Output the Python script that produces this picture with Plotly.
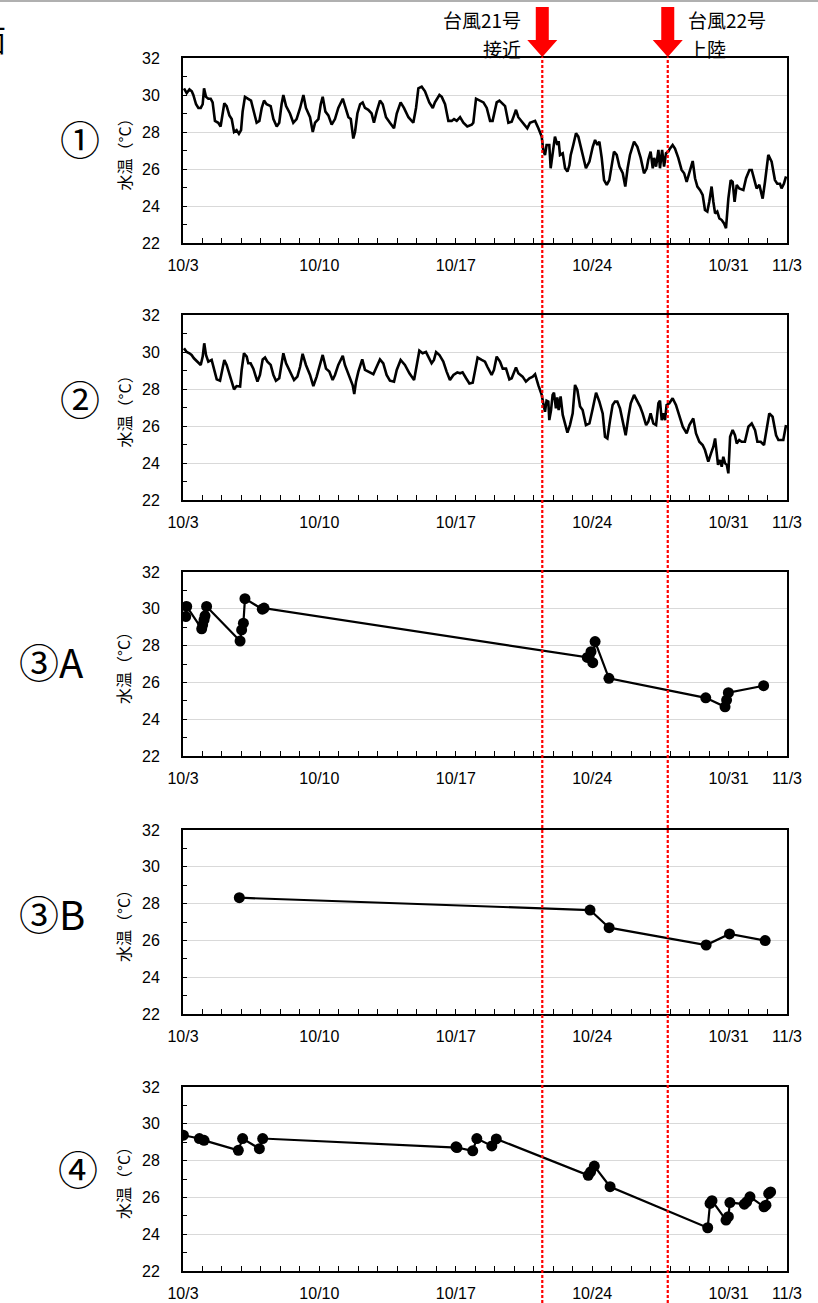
import plotly.graph_objects as go
import pandas as pd

W, H = 818, 1303
BASE = pd.Timestamp("2017-10-03")
END = pd.Timestamp("2017-11-03")

# ---------------- data (days after 10/3 00:00, water temperature in deg C) ----------------
p1_days = [0.05, 0.19, 0.33, 0.45, 0.53, 0.67, 0.79, 0.91, 1.01, 1.08,
           1.18, 1.30, 1.42, 1.52, 1.64, 1.81, 1.93, 2.12, 2.24, 2.38,
           2.50, 2.62, 2.75, 2.87, 2.98, 3.06, 3.18, 3.35, 3.49, 3.61,
           3.78, 3.92, 4.04, 4.16, 4.29, 4.50, 4.64, 4.81, 4.94, 5.06,
           5.15, 5.29, 5.49, 5.66, 5.83, 6.01, 6.18, 6.31, 6.52, 6.66,
           6.78, 6.95, 7.07, 7.17, 7.31, 7.46, 7.63, 7.80, 7.97, 8.20,
           8.32, 8.49, 8.61, 8.74, 8.83, 8.95, 9.09, 9.22, 9.34, 9.51,
           9.68, 9.80, 9.94, 10.11, 10.25, 10.42, 10.62, 10.83, 10.97, 11.17,
           11.34, 11.57, 11.82, 11.96, 12.08, 12.25, 12.42, 12.64, 12.82, 12.93,
           13.16, 13.28, 13.45, 13.62, 13.79, 13.91, 14.05, 14.22, 14.39, 14.59,
           14.82, 14.90, 15.04, 15.24, 15.42, 15.59, 15.76, 15.89,
           16.10, 16.24, 16.41, 16.53, 16.70, 16.87, 16.99, 17.09, 17.21, 17.38,
           17.55, 17.67, 17.81, 17.98, 18.07, 18.24, 18.41, 18.49, 18.58, 18.66,
           18.80, 18.87, 18.97, 19.09, 19.21, 19.28, 19.35, 19.49, 19.61, 19.73,
           19.83, 19.90, 20.03, 20.17, 20.29, 20.46, 20.68, 20.86, 21.03, 21.15,
           21.27, 21.37, 21.49, 21.61, 21.75, 21.88, 22.00, 22.12, 22.26, 22.40,
           22.57, 22.70, 22.82, 22.94, 23.15, 23.32, 23.49, 23.66, 23.80, 23.88,
           24.00, 24.11, 24.18, 24.28, 24.40, 24.48, 24.59, 24.69, 24.79, 24.91,
           24.99, 25.13, 25.25, 25.42, 25.59, 25.72, 25.85, 25.99, 26.16, 26.28,
           26.40, 26.54, 26.67, 26.79, 26.91, 27.01, 27.13, 27.22, 27.31, 27.42,
           27.53, 27.65, 27.77, 27.87, 27.99, 28.11, 28.21, 28.31, 28.42, 28.55,
           28.76, 28.90, 29.07, 29.19, 29.31, 29.44, 29.58, 29.75, 29.87, 30.04,
           30.21, 30.38, 30.50, 30.64, 30.72, 30.84, 30.95]
p1_temp = [30.36, 30.1, 30.3, 30.2, 30.0, 29.5, 29.3, 29.3, 29.5, 30.36,
           29.9, 29.8, 29.8, 29.6, 28.6, 28.5, 28.3, 29.55, 29.4, 28.9,
           28.7, 28.0, 28.1, 27.9, 28.1, 29.1, 29.9, 29.8, 29.7, 29.2,
           28.5, 28.6, 29.3, 29.7, 29.5, 29.4, 28.7, 28.3, 28.5, 29.5,
           30.0, 29.4, 29.0, 28.5, 28.7, 29.3, 30.0, 29.3, 28.8, 28.0,
           28.5, 28.7, 29.5, 29.9, 29.1, 28.9, 28.4, 28.7, 29.3, 29.8,
           29.4, 28.8, 28.7, 27.65, 28.0, 29.0, 29.5, 29.6, 29.3, 29.2,
           29.0, 28.5, 29.1, 29.7, 29.5, 28.8, 28.5, 28.2, 29.0, 29.6,
           29.3, 28.8, 28.5, 29.3, 30.36, 30.45, 30.2, 29.6, 29.3, 29.6,
           30.0, 29.9, 29.5, 28.6, 28.6, 28.7, 28.6, 28.8, 28.5, 28.3,
           28.4, 28.5, 29.8, 29.7, 29.6, 29.3, 28.6, 28.6,
           29.6, 29.7, 29.5, 29.4, 28.5, 28.56, 28.9, 29.2, 28.8, 28.6,
           28.4, 28.2, 28.5, 28.56, 28.6, 28.2, 27.75, 27.0, 26.76, 27.3,
           27.3, 26.04, 26.76, 27.75, 27.3, 27.5, 26.76, 26.85, 26.04, 25.86,
           26.2, 26.76, 27.3, 27.93, 27.75, 26.94, 26.04, 26.4, 27.2, 27.57,
           27.3, 27.48, 26.6, 25.4, 25.14, 25.4, 26.2, 26.94, 26.76, 26.13,
           25.77, 25.05, 26.04, 26.76, 27.48, 27.2, 26.6, 25.77, 26.04, 26.5,
           26.94, 26.04, 26.6, 26.13, 27.03, 26.04, 27.03, 26.13, 26.85, 26.94,
           27.1, 27.3, 27.1, 26.6, 25.95, 25.77, 25.3, 25.77, 26.43, 25.5,
           25.05, 24.86, 24.6, 23.78, 23.7, 24.23, 25.05, 24.23, 23.6, 23.7,
           23.33, 23.24, 23.06, 22.8, 24.4, 25.4, 25.3, 24.23, 25.14, 24.95,
           24.86, 25.5, 25.95, 25.95, 25.5, 24.95, 25.14, 24.4, 25.3, 26.76,
           26.4, 25.4, 25.2, 25.2, 24.95, 25.2, 25.6]

p2_days = [0.05, 0.19, 0.33, 0.44, 0.56, 0.74, 0.91, 1.01, 1.09, 1.18,
           1.30, 1.47, 1.59, 1.73, 1.90, 2.02, 2.12, 2.24, 2.38, 2.55,
           2.62, 2.75, 2.93, 3.01, 3.13, 3.27, 3.35, 3.47, 3.61, 3.82,
           3.95, 4.09, 4.21, 4.33, 4.50, 4.64, 4.77, 4.94, 5.06, 5.15,
           5.29, 5.49, 5.70, 5.87, 6.01, 6.14, 6.31, 6.52, 6.69, 6.86,
           7.03, 7.17, 7.34, 7.51, 7.68, 7.80, 7.97, 8.20, 8.31, 8.49,
           8.61, 8.71, 8.79, 8.88, 9.00, 9.20, 9.34, 9.51, 9.77, 9.94,
           10.11, 10.28, 10.45, 10.62, 10.83, 10.97, 11.17, 11.39, 11.62, 11.86,
           11.99, 12.13, 12.30, 12.47, 12.59, 12.76, 12.88, 12.99, 13.16, 13.36,
           13.53, 13.70, 13.88, 14.08, 14.22, 14.35, 14.53, 14.70, 14.87, 14.99,
           15.12, 15.33, 15.50, 15.62, 15.84, 15.96, 16.10,
           16.27, 16.41, 16.58, 16.75, 16.87, 16.99, 17.09, 17.21, 17.43, 17.60,
           17.78, 17.95, 18.07, 18.24, 18.41, 18.49, 18.58, 18.66, 18.75, 18.80,
           18.89, 18.97, 19.04, 19.14, 19.21, 19.28, 19.38, 19.49, 19.61, 19.73,
           19.86, 20.00, 20.12, 20.24, 20.38, 20.51, 20.68, 20.86, 21.03, 21.20,
           21.37, 21.54, 21.66, 21.78, 21.92, 22.05, 22.17, 22.29, 22.43, 22.57,
           22.72, 22.86, 22.98, 23.15, 23.29, 23.46, 23.59, 23.77, 23.88, 24.00,
           24.14, 24.28, 24.40, 24.48, 24.57, 24.65, 24.74, 24.82, 24.96, 25.13,
           25.30, 25.47, 25.65, 25.85, 25.99, 26.19, 26.33, 26.50, 26.67, 26.79,
           26.96, 27.10, 27.22, 27.31, 27.39, 27.46, 27.56, 27.65, 27.73, 27.82,
           27.91, 27.99, 28.08, 28.21, 28.33, 28.42, 28.55, 28.67, 28.84, 29.02,
           29.19, 29.36, 29.48, 29.65, 29.82, 29.92, 30.09, 30.26, 30.44, 30.56,
           30.81, 30.95]
p2_temp = [30.2, 30.0, 29.93, 29.84, 29.66, 29.48, 29.3, 29.75, 30.47, 29.84,
           29.48, 29.57, 29.03, 28.52, 28.45, 29.1, 29.57, 29.3, 28.76, 28.2,
           27.98, 28.16, 28.13, 29.03, 29.93, 29.75, 29.39, 29.39, 29.1, 28.4,
           28.76, 29.6, 29.7, 29.48, 29.3, 28.76, 28.45, 28.58, 29.39, 29.93,
           29.39, 28.94, 28.49, 28.67, 29.2, 29.9, 29.3, 28.76, 28.16, 28.67,
           29.39, 29.84, 29.1, 28.94, 28.49, 28.76, 29.3, 29.8, 29.3, 28.76,
           28.4, 28.2, 27.73, 28.4, 28.94, 29.6, 29.03, 28.94, 28.8, 29.2,
           29.6, 29.39, 28.76, 28.45, 28.4, 29.03, 29.57, 29.3, 28.85, 28.49,
           29.3, 30.07, 29.93, 30.0, 29.75, 29.39, 29.57, 30.0, 29.84, 29.48,
           28.94, 28.49, 28.76, 28.9, 28.85, 28.9, 28.58, 28.3, 28.34, 28.94,
           29.7, 29.57, 29.48, 29.2, 28.76, 29.03, 29.75,
           29.48, 29.1, 29.1, 28.52, 28.58, 28.94, 29.17, 28.85, 28.67, 28.4,
           28.58, 28.67, 28.8, 28.2, 27.68, 27.23, 26.77, 27.37, 27.32, 26.32,
           26.86, 27.68, 27.8, 26.95, 27.55, 26.86, 27.6, 26.6, 26.14, 25.64,
           26.05, 26.68, 28.22, 27.95, 27.05, 26.86, 26.05, 26.14, 26.95, 27.8,
           27.32, 26.68, 25.42, 25.33, 26.32, 27.14, 27.32, 27.32, 26.95, 26.32,
           25.5, 26.5, 27.23, 27.68, 27.4, 27.05, 26.68, 26.05, 26.23, 26.68,
           26.14, 26.05, 27.23, 27.37, 26.32, 26.68, 26.32, 27.14, 27.23, 27.5,
           27.14, 26.5, 25.96, 25.6, 26.05, 26.41, 25.6, 25.15, 24.97, 24.7,
           24.07, 24.52, 24.88, 25.33, 24.7, 23.9, 24.16, 23.8, 24.34, 23.98,
           23.9, 23.44, 25.42, 25.78, 25.5, 25.06, 25.24, 25.15, 25.15, 25.96,
           26.14, 25.78, 25.15, 25.15, 24.97, 25.6, 26.68, 26.5, 25.5, 25.24,
           25.24, 26.05]

p3a_days = [0.14, 0.19, 0.96, 1.01, 1.08, 1.13, 1.21, 2.93, 3.01, 3.10,
            3.18, 4.07, 4.16, 20.75, 20.94, 21.03, 21.15, 21.86, 26.83, 27.82,
            27.90, 27.99, 29.80]
p3a_temp = [29.58, 30.13, 28.91, 29.13, 29.40, 29.62, 30.13, 28.25, 28.85, 29.22,
            30.55, 29.98, 30.04, 27.36, 27.67, 27.07, 28.22, 26.22, 25.16, 24.67,
            25.04, 25.44, 25.82]

p3b_days = [2.89, 20.89, 21.87, 26.85, 28.05, 29.88]
p3b_temp = [28.32, 27.65, 26.69, 25.75, 26.35, 25.99]

p4_days = [0.02, 0.84, 1.08, 2.84, 3.06, 3.92, 4.09, 14.01, 14.06, 14.87,
           15.08, 15.85, 16.08, 20.80, 20.92, 21.11, 21.92, 26.93, 27.05, 27.15,
           27.87, 27.99, 28.07, 28.81, 28.93, 29.10, 29.82, 29.92, 30.06, 30.16]
p4_temp = [29.38, 29.20, 29.10, 28.56, 29.20, 28.65, 29.20, 28.75, 28.71, 28.53,
           29.20, 28.80, 29.18, 27.20, 27.39, 27.70, 26.58, 24.35, 25.67, 25.82,
           24.77, 24.95, 25.72, 25.63, 25.76, 26.03, 25.49, 25.58, 26.21, 26.30]

panel_labels = ["①", "②", "③A", "③B", "④"]
tick_days = [0, 7, 14, 21, 28, 31]
tick_labels = ["10/3", "10/10", "10/17", "10/24", "10/31", "11/3"]
typhoon_days = [18.44, 24.88]
typhoon_text = [("台風21号", "接近"), ("台風22号", "上陸")]
y_title = "水温（°C）"

# ---------------- layout geometry (pixels) ----------------
PLOT_L, PLOT_R = 183, 787
panel_px = [(58, 243), (315, 500), (572, 756), (830, 1014), (1087, 1271)]
label_px = [(80, 138, "center"), (80, 398, "center"), (17, 661, "left"),
            (17, 913, "left"), (78, 1168, "center")]


def t(days):
    return [BASE + pd.Timedelta(days=d) for d in days]


def ts(d):
    return (BASE + pd.Timedelta(days=d)).strftime("%Y-%m-%d %H:%M:%S")


def py(p):
    return 1 - p / H


fig = go.Figure()

series = [(p1_days, p1_temp, False), (p2_days, p2_temp, False),
          (p3a_days, p3a_temp, True), (p3b_days, p3b_temp, True),
          (p4_days, p4_temp, True)]

for i, (d, v, mk) in enumerate(series):
    sfx = "" if i == 0 else str(i + 1)
    fig.add_trace(go.Scatter(
        x=t(d), y=v, xaxis="x" + sfx, yaxis="y" + sfx,
        mode="lines+markers" if mk else "lines",
        line=dict(color="black", width=2.6 if not mk else 2.2),
        marker=dict(color="black", size=11),
        showlegend=False, hoverinfo="skip"))

layout = dict(width=W, height=H, margin=dict(l=0, r=0, t=0, b=0, autoexpand=False),
              paper_bgcolor="white", plot_bgcolor="white", showlegend=False)

annotations = []
shapes = []
for i, (top, bot) in enumerate(panel_px):
    sfx = "" if i == 0 else str(i + 1)
    layout["xaxis" + sfx] = dict(
        type="date", range=[BASE, END], domain=[PLOT_L / W, PLOT_R / W],
        anchor="y" + sfx, tickmode="array", tickvals=t(tick_days), ticktext=tick_labels,
        ticks="inside", ticklen=5, tickwidth=1, tickcolor="black",
        minor=dict(dtick=86400000, tick0=BASE, ticks="inside", ticklen=5,
                   tickwidth=1, tickcolor="black", showgrid=False),
        showline=True, linecolor="black", linewidth=2, mirror=True, automargin=False,
        showgrid=False, zeroline=False, ticklabelstandoff=7,
        tickfont=dict(family="Liberation Sans", size=16, color="black"))
    layout["yaxis" + sfx] = dict(
        range=[22, 32], domain=[py(bot), py(top)], anchor="x" + sfx,
        tick0=22, dtick=2, ticks="inside", ticklen=4, tickwidth=1, tickcolor="black",
        minor=dict(dtick=1, ticks="inside", ticklen=4, tickwidth=1,
                   tickcolor="black", showgrid=False),
        showgrid=True, gridcolor="#d9d9d9", gridwidth=1, automargin=False,
        showline=True, linecolor="black", linewidth=2, mirror=True,
        zeroline=False, ticklabelstandoff=18,
        tickfont=dict(family="Liberation Sans", size=16, color="black"))
    annotations.append(dict(
        text=y_title, textangle=-90, xref="paper", yref="paper",
        x=123 / W, y=py((top + bot) / 2), xanchor="center", yanchor="middle",
        showarrow=False, font=dict(family="Noto Sans CJK JP", size=16, color="black")))
    lx, ly, anc = label_px[i]
    annotations.append(dict(
        text=panel_labels[i], xref="paper", yref="paper", x=lx / W, y=py(ly),
        xanchor=anc, yanchor="middle", showarrow=False,
        font=dict(family="Noto Sans CJK JP", size=40, color="black")))

# typhoon markers
for k, d in enumerate(typhoon_days):
    shapes.append(dict(type="line", xref="x", yref="paper", x0=ts(d), x1=ts(d),
                       y0=0, y1=py(57), line=dict(color="#ff0000", width=2.2, dash="3px,2px"),
                       layer="above"))
    shapes.append(dict(type="path", xref="x", yref="paper", xsizemode="pixel",
                       ysizemode="pixel", xanchor=ts(d), yanchor=py(57),
                       path="M -6.5 17 L -6.5 50 L 6.5 50 L 6.5 17 L 15 17 L 0 0 L -15 17 Z",
                       fillcolor="#ff0000", line=dict(width=0), layer="above"))
    l1, l2 = typhoon_text[k]
    if k == 0:
        anc, shift, al = "right", -19, "right"
    else:
        anc, shift, al = "left", 18, "left"
    for txt, yy in ((l1, 19), (l2, 48)):
        annotations.append(dict(
            text=txt, xref="x", yref="paper", x=ts(d), xshift=shift, y=py(yy),
            xanchor=anc, yanchor="middle", align=al, showarrow=False,
            font=dict(family="Noto Sans CJK JP", size=19, color="black")))

# cropped neighbouring text / frame remnants
annotations.append(dict(text="面", xref="paper", yref="paper", x=8 / W, y=py(38),
                        xanchor="right", yanchor="middle", showarrow=False,
                        font=dict(family="Noto Sans CJK JP", size=30, color="black")))
shapes.append(dict(type="line", xref="paper", yref="paper", x0=0, x1=1,
                   y0=py(1), y1=py(1), line=dict(color="#b0b0b0", width=2)))

layout["annotations"] = annotations
layout["shapes"] = shapes
fig.update_layout(**layout)
fig.write_html("out.html", config={"displayModeBar": False},
               post_script="document.body.style.margin='0px';document.body.style.overflow='hidden';")
